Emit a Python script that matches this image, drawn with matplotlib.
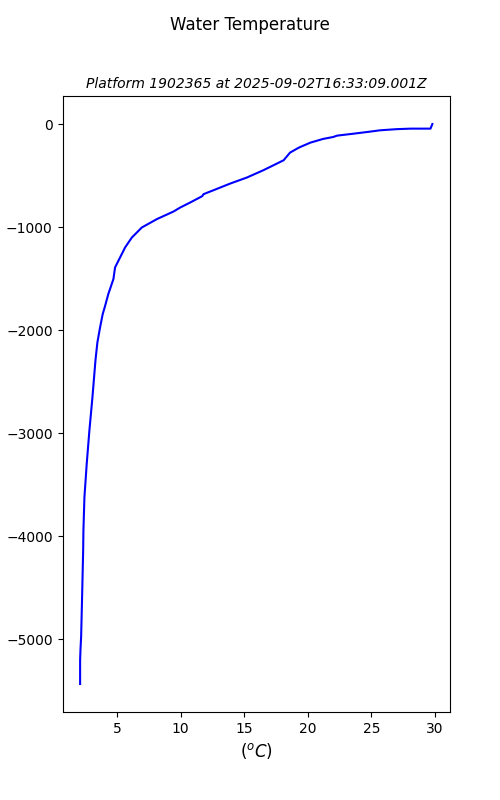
import matplotlib
matplotlib.use('Agg')
import matplotlib.pyplot as plt

# Perfil de temperatura
temperatura = [29.8, 29.65, 28.1, 27.0, 25.7, 24.9, 23.6, 22.3, 22.0, 21.2, 20.2,
               19.3, 18.6, 18.1, 16.5, 15.2, 13.9, 12.6, 11.8, 11.7, 10.75, 9.96,
               9.43, 8.13, 6.94, 6.16, 5.63, 4.84, 4.71, 4.31, 4.06, 3.87,
               3.66, 3.45, 3.30, 3.06, 2.82, 2.61, 2.43, 2.35, 2.33, 2.24,
               2.17, 2.12, 2.09, 2.09]
profundidad = [0, -45, -45, -50, -61, -74, -94, -113, -126, -145, -181,
               -229, -278, -352, -449, -520, -578, -642, -681, -700, -762, -811,
               -850, -923, -1005, -1102, -1198, -1392, -1505, -1650, -1764, -1844,
               -1974, -2120, -2290, -2652, -2975, -3298, -3621, -3944, -4138, -4622,
               -4977, -5100, -5203, -5436]

fig = plt.figure(figsize=(5, 8), dpi=100)
ax = fig.add_subplot(111)
ax.plot(temperatura, profundidad, color='blue')

fig.suptitle("Water Temperature")
ax.set_title("Platform 1902365 at 2025-09-02T16:33:09.001Z", fontsize=10, style='italic')
ax.set_xlabel("($^oC$)", fontsize=12)
ax.set_ylabel("depth (m)")

fig.savefig('out.png')
